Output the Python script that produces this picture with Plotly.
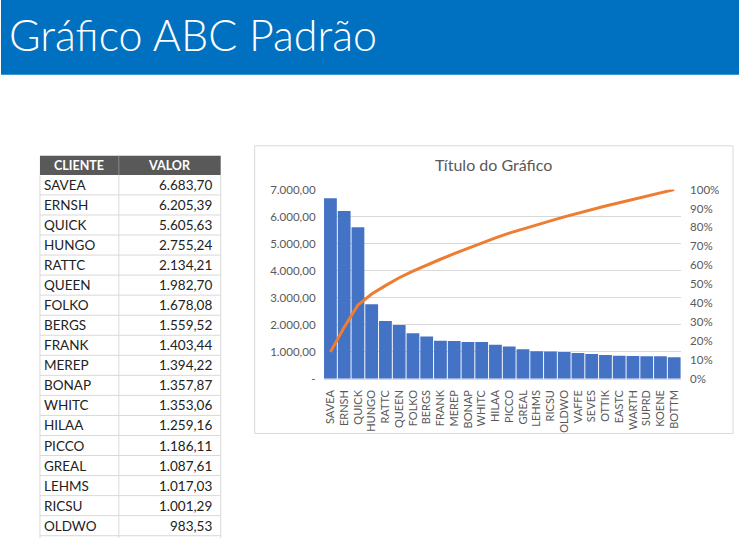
import plotly.graph_objects as go

W, H = 739, 538
FIG_H = 547            # page height of the figure
OFF, SCALE = 6.5, 0.974  # measured capture mapping: shown_y = OFF + SCALE * page_y

clientes = ["SAVEA", "ERNSH", "QUICK", "HUNGO", "RATTC", "QUEEN", "FOLKO", "BERGS",
            "FRANK", "MEREP", "BONAP", "WHITC", "HILAA", "PICCO", "GREAL", "LEHMS",
            "RICSU", "OLDWO", "VAFFE", "SEVES", "OTTIK", "EASTC", "WARTH", "SUPRD",
            "KOENE", "BOTTM"]
valores = [6683.70, 6205.39, 5605.63, 2755.24, 2134.21, 1982.70, 1678.08, 1559.52,
           1403.44, 1394.22, 1357.87, 1353.06, 1259.16, 1186.11, 1087.61, 1017.03,
           1001.29, 983.53, 950.0, 910.0, 875.0, 845.0, 835.0, 830.0, 825.0, 790.0]
n_tabela = 18  # rows visible in the sheet table

left_tickvals = [0, 1000, 2000, 3000, 4000, 5000, 6000, 7000]
left_ticktext = ["-", "1.000,00", "2.000,00", "3.000,00", "4.000,00", "5.000,00",
                 "6.000,00", "7.000,00"]
right_tickvals = [0, 0.1, 0.2, 0.3, 0.4, 0.5, 0.6, 0.7, 0.8, 0.9, 1.0]

total = sum(valores)
acum = []
s = 0.0
for v in valores:
    s += v
    acum.append(s / total)


def br(v):
    t = f"{v:,.2f}"
    return t.replace(",", "X").replace(".", ",").replace("X", ".")


def px(x):
    return x / W


def py(y):
    page_y = (y - OFF) / SCALE
    return 1 - page_y / FIG_H


FONT = "Lato"
GRAY = "#595959"

fig = go.Figure()
fig.add_trace(go.Bar(x=clientes, y=valores, marker=dict(color="#4472C4", line=dict(width=0)),
                     xaxis="x", yaxis="y", showlegend=False))
fig.add_trace(go.Scatter(x=clientes, y=acum, mode="lines",
                         line=dict(color="#ED7D31", width=3),
                         xaxis="x", yaxis="y2", showlegend=False))

shapes = []
annotations = []

# header band
shapes.append(dict(type="rect", xref="paper", yref="paper", x0=0, x1=1, y0=py(74), y1=1.03,
                   fillcolor="#0070C0", line=dict(width=0)))
annotations.append(dict(text="Gráfico ABC Padrão", xref="paper", yref="paper",
                        x=px(6), y=py(34), xanchor="left", yanchor="middle", showarrow=False,
                        font=dict(family=FONT, size=43, color="white", weight=300)))

# chart box
shapes.append(dict(type="rect", xref="paper", yref="paper", x0=px(254), x1=px(733),
                   y0=py(432), y1=py(145), line=dict(color="#D9D9D9", width=1),
                   fillcolor="rgba(0,0,0,0)", layer="below"))
annotations.append(dict(text="Título do Gráfico", xref="paper", yref="paper",
                        x=px(493), y=py(164), xanchor="center", yanchor="middle",
                        showarrow=False, font=dict(family=FONT, size=16, color=GRAY)))

# table
tx0, tx1, tx2 = 39, 118, 220
hy0, hy1 = 155, 174
rh = 20
shapes.append(dict(type="rect", xref="paper", yref="paper", x0=px(tx0), x1=px(tx2),
                   y0=py(hy1), y1=py(hy0), fillcolor="#595959", line=dict(width=0)))
shapes.append(dict(type="line", xref="paper", yref="paper", x0=px(tx1), x1=px(tx1),
                   y0=py(hy1), y1=py(hy0), line=dict(color="#8a8a8a", width=1)))
annotations.append(dict(text="<b>CLIENTE</b>", xref="paper", yref="paper",
                        x=px((tx0 + tx1) / 2), y=py((hy0 + hy1) / 2), showarrow=False,
                        xanchor="center", yanchor="middle",
                        font=dict(family=FONT, size=12.5, color="white")))
annotations.append(dict(text="<b>VALOR</b>", xref="paper", yref="paper",
                        x=px((tx1 + tx2) / 2), y=py((hy0 + hy1) / 2), showarrow=False,
                        xanchor="center", yanchor="middle",
                        font=dict(family=FONT, size=12.5, color="white")))
bottom = hy1 + rh * n_tabela
for xv in (tx0, tx1, tx2):
    shapes.append(dict(type="line", xref="paper", yref="paper", x0=px(xv), x1=px(xv),
                       y0=py(bottom + 3), y1=py(hy1), line=dict(color="#D9D9D9", width=1)))
for i in range(n_tabela):
    yt = hy1 + rh * i
    shapes.append(dict(type="line", xref="paper", yref="paper", x0=px(tx0), x1=px(tx2),
                       y0=py(yt + rh), y1=py(yt + rh), line=dict(color="#D9D9D9", width=1)))
    annotations.append(dict(text=clientes[i], xref="paper", yref="paper",
                            x=px(41), y=py(yt + rh / 2), xanchor="left", yanchor="middle",
                            showarrow=False, font=dict(family=FONT, size=13.5, color="#222222")))
    annotations.append(dict(text=br(valores[i]), xref="paper", yref="paper",
                            x=px(213), y=py(yt + rh / 2), xanchor="right", yanchor="middle",
                            showarrow=False, font=dict(family=FONT, size=13.5, color="#222222")))

fig.update_layout(
    width=W, height=FIG_H,
    margin=dict(l=0, r=0, t=0, b=0),
    paper_bgcolor="white", plot_bgcolor="white",
    separators=",.",
    bargap=0.07,
    shapes=shapes, annotations=annotations,
    xaxis=dict(domain=[px(323), px(681)], type="category", tickangle=-90,
               tickmode="array", tickvals=clientes,
               tickfont=dict(family=FONT, size=11, color=GRAY), ticks="",
               showline=True, linecolor="#D9D9D9", ticklabelstandoff=6,
               range=[-0.5, len(clientes) - 0.5], anchor="y"),
    yaxis=dict(domain=[py(377.3), py(188.7)], range=[0, 7000], tickvals=left_tickvals,
               ticktext=left_ticktext, showgrid=True, gridcolor="#D9D9D9", zeroline=False,
               tickfont=dict(family=FONT, size=11.5, color=GRAY), ticks="",
               ticklabelstandoff=7),
    yaxis2=dict(domain=[py(377.3), py(188.7)], range=[0, 1], overlaying="y", side="right",
                tickvals=right_tickvals, tickformat=".0%", showgrid=False, zeroline=False,
                tickfont=dict(family=FONT, size=11.5, color=GRAY), ticks="",
                ticklabelstandoff=8, anchor="x"),
)

fig.write_html("out.html",
               config={"displayModeBar": False},
               post_script="document.body.style.margin='0px';"
                           "document.body.style.overflow='hidden';"
                           "var gd=document.getElementById('{plot_id}');"
                           "gd.style.position='absolute';gd.style.top='0px';"
                           "gd.style.left='0px';")
